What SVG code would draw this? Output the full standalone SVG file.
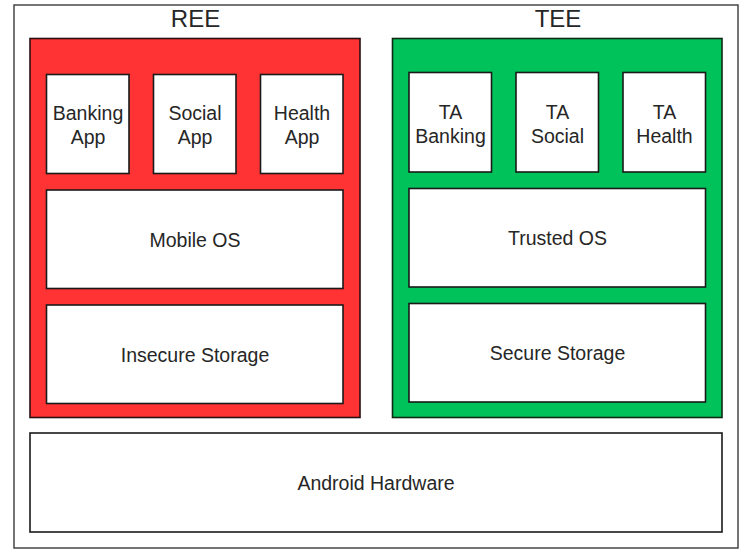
<svg xmlns="http://www.w3.org/2000/svg" width="753" height="555" viewBox="0 0 753 555">
  <style>
    .box { fill: #ffffff; stroke: #1a1a1a; stroke-width: 1.6; }
    .ree { fill: #ff3333; stroke: #2a1010; stroke-width: 1.6; }
    .tee { fill: #00c25a; stroke: #0f2a14; stroke-width: 1.6; }
    .frame { fill: #ffffff; stroke: #3a3a3a; stroke-width: 1.4; }
    .lbl { font-family: "Liberation Sans", Arial, sans-serif; font-size: 19.5px; fill: #262626; text-anchor: middle; }
    .title { font-family: "Liberation Sans", Arial, sans-serif; font-size: 24px; fill: #262626; text-anchor: middle; }
  </style>
  <rect x="0" y="0" width="753" height="555" fill="#ffffff"/>
  <g id="frame">
    <rect class="frame" x="14" y="5" width="724" height="543"/>
  </g>
  <g id="ree">
    <rect class="ree" x="30" y="38.5" width="330" height="379"/>
    <text class="title" x="195.5" y="27">REE</text>
  </g>
  <g id="tee">
    <rect class="tee" x="392.5" y="38.5" width="329.5" height="379"/>
    <text class="title" x="558" y="27">TEE</text>
  </g>
  <g id="banking-app">
    <rect class="box" x="46.5" y="74.5" width="82.5" height="99"/>
    <text class="lbl" x="88" y="119.5">Banking</text>
    <text class="lbl" x="88" y="144">App</text>
  </g>
  <g id="social-app">
    <rect class="box" x="153.5" y="74.5" width="82.5" height="99"/>
    <text class="lbl" x="195" y="119.5">Social</text>
    <text class="lbl" x="195" y="144">App</text>
  </g>
  <g id="health-app">
    <rect class="box" x="260.5" y="74.5" width="82.5" height="99"/>
    <text class="lbl" x="302" y="119.5">Health</text>
    <text class="lbl" x="302" y="144">App</text>
  </g>
  <g id="mobile-os">
    <rect class="box" x="46.5" y="190" width="296.5" height="98.5"/>
    <text class="lbl" x="195" y="246.5">Mobile OS</text>
  </g>
  <g id="insecure-storage">
    <rect class="box" x="46.5" y="305" width="296.5" height="98.5"/>
    <text class="lbl" x="195" y="361.5">Insecure Storage</text>
  </g>
  <g id="ta-banking">
    <rect class="box" x="409" y="72.5" width="82.5" height="99.5"/>
    <text class="lbl" x="450.5" y="118.5">TA</text>
    <text class="lbl" x="450.5" y="143">Banking</text>
  </g>
  <g id="ta-social">
    <rect class="box" x="516" y="72.5" width="82.5" height="99.5"/>
    <text class="lbl" x="557.5" y="118.5">TA</text>
    <text class="lbl" x="557.5" y="143">Social</text>
  </g>
  <g id="ta-health">
    <rect class="box" x="623" y="72.5" width="82.5" height="99.5"/>
    <text class="lbl" x="664.5" y="118.5">TA</text>
    <text class="lbl" x="664.5" y="143">Health</text>
  </g>
  <g id="trusted-os">
    <rect class="box" x="409" y="188.5" width="296.5" height="98.5"/>
    <text class="lbl" x="557.5" y="244.5">Trusted OS</text>
  </g>
  <g id="secure-storage">
    <rect class="box" x="409" y="303.5" width="296.5" height="98.5"/>
    <text class="lbl" x="557.5" y="360">Secure Storage</text>
  </g>
  <g id="android-hardware">
    <rect class="box" x="30" y="433" width="692" height="99"/>
    <text class="lbl" x="376" y="490">Android Hardware</text>
  </g>
  <g id="connectors"></g>
</svg>
